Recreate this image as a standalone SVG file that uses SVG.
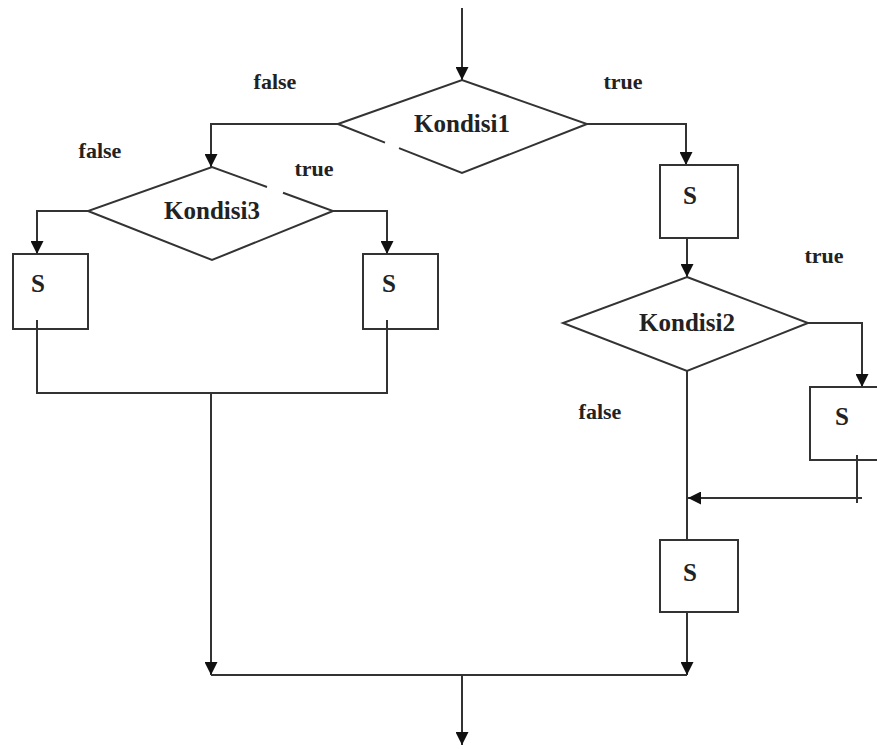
<svg xmlns="http://www.w3.org/2000/svg" width="877" height="749" viewBox="0 0 877 749">
<defs>
<marker id="ah" markerUnits="userSpaceOnUse" markerWidth="13" markerHeight="13" refX="13" refY="6.5" orient="auto">
<path d="M0,0 L13,6.5 L0,13 z" fill="#111"/>
</marker>
<style>
.ln{fill:none;stroke:#333;stroke-width:2}
.arr{marker-end:url(#ah)}
.shape{fill:#fff;stroke:#333;stroke-width:2}
.t{font-family:"Liberation Serif","Times New Roman",serif;font-weight:bold;font-size:25px;fill:#222;text-anchor:middle}
.lbl{font-family:"Liberation Serif","Times New Roman",serif;font-weight:bold;font-size:22px;fill:#222;text-anchor:middle}
</style>
</defs>
<rect width="877" height="749" fill="#fff"/>
<g id="connectors">
<path class="ln arr" d="M462,8 V80"/>
<path class="ln arr" d="M338,124 H211 V167"/>
<path class="ln arr" d="M587,124 H686 V165"/>
<path class="ln arr" d="M88,211 H37 V254"/>
<path class="ln arr" d="M333,211 H387 V254"/>
<path class="ln" d="M37,320 V393 H387 V320"/>
<path class="ln arr" d="M211,393 V675"/>
<path class="ln arr" d="M687,238 V277"/>
<path class="ln arr" d="M808,323 H862 V387"/>
<path class="ln" d="M857,455 V503"/>
<path class="ln arr" d="M862,498 H688"/>
<path class="ln" d="M687,371 V540"/>
<path class="ln arr" d="M687,612 V675"/>
<path class="ln" d="M211,675 H687"/>
<path class="ln arr" d="M462,675 V745"/>
</g>
<g id="kondisi1">
<path d="M338,124 L462,80 L587,124 L462,173 Z" fill="#fff"/>
<path class="ln" d="M338,124 L462,80 L587,124 L462,173 L399,148.1 M385,142.6 L338,124"/>
<text class="t" x="462" y="132">Kondisi1</text>
</g>
<g id="kondisi3">
<path d="M212,167 L333,211 L212,260 L88,211 Z" fill="#fff"/>
<path class="ln" d="M283,192.8 L333,211 L212,260 L88,211 L212,167 L267,187"/>
<text class="t" x="212" y="219">Kondisi3</text>
</g>
<g id="kondisi2">
<path class="shape" d="M687,277 L808,323 L687,371 L563,323 Z"/>
<text class="t" x="687" y="331">Kondisi2</text>
</g>
<g id="s-left">
<rect class="shape" x="13" y="254" width="75" height="75"/>
<path class="ln" d="M37,320 V329"/>
<text class="t" x="38" y="292">S</text>
</g>
<g id="s-mid">
<rect class="shape" x="363" y="254" width="75" height="75"/>
<path class="ln" d="M387,320 V329"/>
<text class="t" x="389" y="292">S</text>
</g>
<g id="s-top-right">
<rect class="shape" x="660" y="165" width="78" height="73"/>
<text class="t" x="690" y="204">S</text>
</g>
<g id="s-far-right">
<rect class="shape" x="810" y="387" width="80" height="73"/>
<path class="ln" d="M857,455 V460"/>
<text class="t" x="842" y="425">S</text>
</g>
<g id="s-bottom">
<rect class="shape" x="660" y="540" width="78" height="72"/>
<text class="t" x="690" y="581">S</text>
</g>
<g id="labels">
<text class="lbl" x="275" y="89">false</text>
<text class="lbl" x="623" y="89">true</text>
<text class="lbl" x="100" y="158">false</text>
<text class="lbl" x="314" y="176">true</text>
<text class="lbl" x="824" y="263">true</text>
<text class="lbl" x="600" y="419">false</text>
</g>
</svg>
